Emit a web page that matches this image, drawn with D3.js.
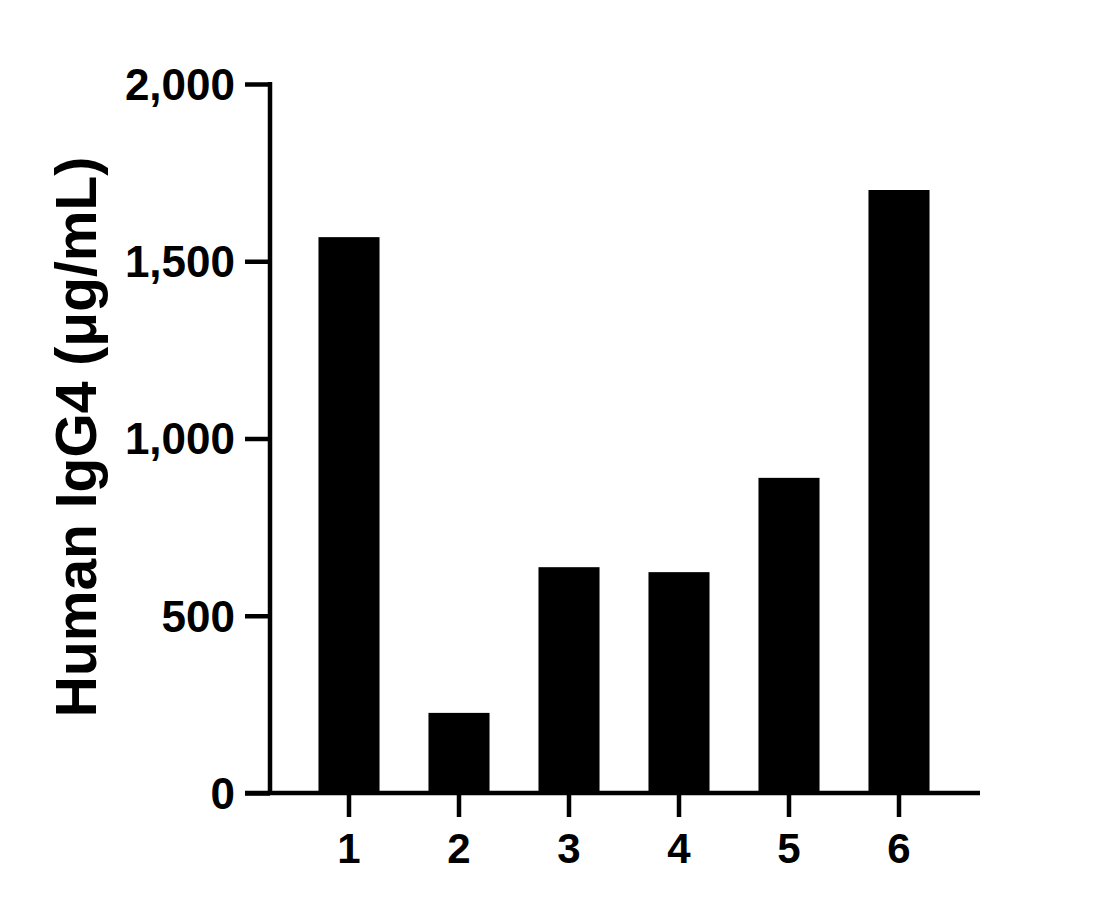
<!DOCTYPE html>
<html>
<head>
<meta charset="utf-8">
<script src="https://cdn.jsdelivr.net/npm/d3@7.9.0/dist/d3.min.js"></script>
<style>
  html, body { margin: 0; padding: 0; background: #fff; }
  text { font-family: Arial, "Liberation Sans", sans-serif; font-weight: bold; }
</style>
</head>
<body>
<svg id="chart" width="1117" height="909"></svg>
<script>
// values
const categories = ['1', '2', '3', '4', '5', '6'];
const values = [1568, 226, 637, 623, 889, 1701];
const yTicks = [0, 500, 1000, 1500, 2000];
const yTitle = 'Human IgG4 (μg/mL)';

const svg = d3.select('#chart');

const x = d3.scaleBand()
  .domain(categories)
  .range([294, 954])
  .paddingInner(0.445)
  .paddingOuter(0.2225);

const y = d3.scaleLinear().domain([0, 2000]).range([793, 84]);

// bars
svg.append('g')
  .selectAll('rect')
  .data(values)
  .join('rect')
  .attr('x', (d, i) => x(categories[i]))
  .attr('y', d => y(d))
  .attr('width', x.bandwidth())
  .attr('height', d => y(0) - y(d))
  .attr('fill', '#000');

// y axis
const yAxis = svg.append('g')
  .attr('transform', 'translate(270,0)')
  .call(d3.axisLeft(y)
    .tickValues(yTicks)
    .tickFormat(d3.format(','))
    .tickSize(25)
    .tickSizeOuter(0)
    .tickPadding(10));
yAxis.select('.domain').remove();
yAxis.selectAll('.tick line').attr('stroke', '#000').attr('stroke-width', 4.5);
yAxis.selectAll('.tick text')
  .attr('font-size', 44)
  .attr('dy', '0.35em')
  .attr('fill', '#000');
yAxis.append('line')
  .attr('x1', 0).attr('x2', 0)
  .attr('y1', y(2000) - 2).attr('y2', y(0) + 2)
  .attr('stroke', '#000').attr('stroke-width', 4.5);

// x axis
const xAxis = svg.append('g')
  .attr('transform', 'translate(0,793)')
  .call(d3.axisBottom(x)
    .tickSize(24)
    .tickSizeOuter(0)
    .tickPadding(16));
xAxis.select('.domain').remove();
xAxis.selectAll('.tick line').attr('stroke', '#000').attr('stroke-width', 4.5);
xAxis.selectAll('.tick text')
  .attr('font-size', 42)
  .attr('fill', '#000');
xAxis.append('line')
  .attr('x1', 245).attr('x2', 980)
  .attr('y1', 0).attr('y2', 0)
  .attr('stroke', '#000').attr('stroke-width', 4.5);

// y title
svg.append('text')
  .attr('transform', 'translate(96,437) rotate(-90)')
  .attr('text-anchor', 'middle')
  .attr('font-size', 57)
  .attr('fill', '#000')
  .text(yTitle);
</script>
</body>
</html>
